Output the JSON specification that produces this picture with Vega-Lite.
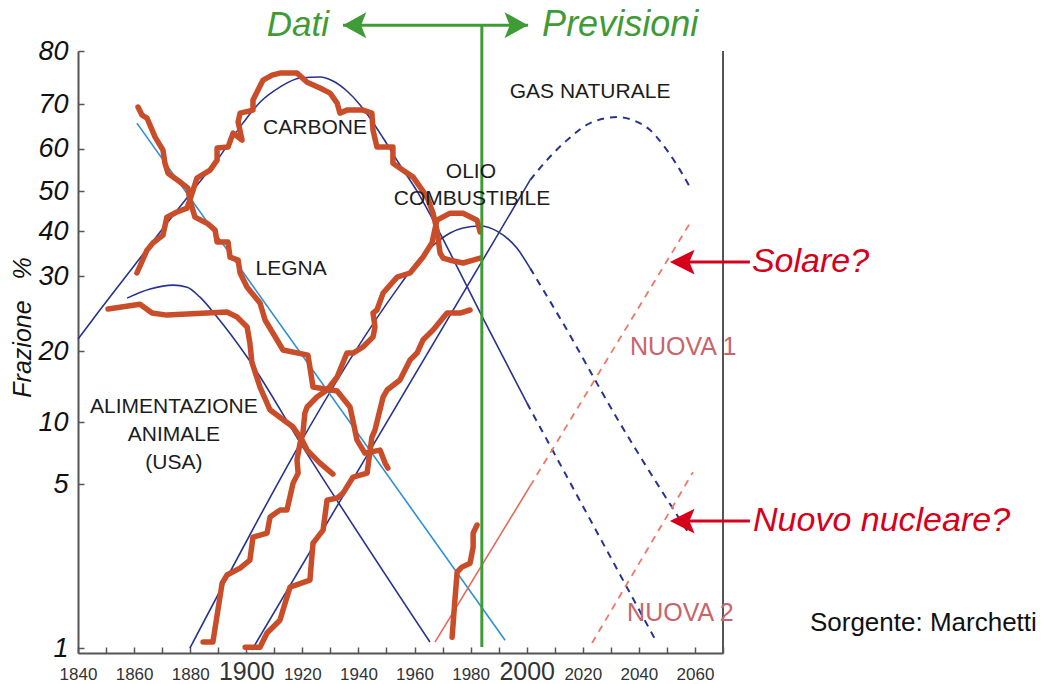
{
  "$schema": "https://vega.github.io/schema/vega-lite/v6.json",
  "width": 645,
  "height": 602,
  "autosize": {"type": "none"},
  "padding": {"left": 78, "top": 51, "right": 319, "bottom": 31},
  "background": "white",
  "config": {"view": {"stroke": null}, "font": "Liberation Sans"},
  "datasets": {
    "storico": [
      {"fonte": "legna", "anno": 1861.4, "log_odds": 0.361},
      {"fonte": "legna", "anno": 1862.8, "log_odds": 0.327},
      {"fonte": "legna", "anno": 1864.6, "log_odds": 0.314},
      {"fonte": "legna", "anno": 1867.5, "log_odds": 0.232},
      {"fonte": "legna", "anno": 1870.3, "log_odds": 0.176},
      {"fonte": "legna", "anno": 1871.0, "log_odds": 0.120},
      {"fonte": "legna", "anno": 1872.1, "log_odds": 0.077},
      {"fonte": "legna", "anno": 1876.4, "log_odds": 0.039},
      {"fonte": "legna", "anno": 1879.2, "log_odds": 0.013},
      {"fonte": "legna", "anno": 1879.9, "log_odds": -0.039},
      {"fonte": "legna", "anno": 1881.7, "log_odds": -0.112},
      {"fonte": "legna", "anno": 1886.0, "log_odds": -0.138},
      {"fonte": "legna", "anno": 1888.9, "log_odds": -0.168},
      {"fonte": "legna", "anno": 1889.6, "log_odds": -0.219},
      {"fonte": "legna", "anno": 1893.5, "log_odds": -0.219},
      {"fonte": "legna", "anno": 1894.2, "log_odds": -0.284},
      {"fonte": "legna", "anno": 1897.1, "log_odds": -0.297},
      {"fonte": "legna", "anno": 1897.8, "log_odds": -0.352},
      {"fonte": "legna", "anno": 1900.3, "log_odds": -0.413},
      {"fonte": "legna", "anno": 1904.9, "log_odds": -0.481},
      {"fonte": "legna", "anno": 1906.7, "log_odds": -0.554},
      {"fonte": "legna", "anno": 1909.5, "log_odds": -0.610},
      {"fonte": "legna", "anno": 1913.1, "log_odds": -0.683},
      {"fonte": "legna", "anno": 1922.0, "log_odds": -0.705},
      {"fonte": "legna", "anno": 1923.8, "log_odds": -0.842},
      {"fonte": "legna", "anno": 1932.4, "log_odds": -0.859},
      {"fonte": "legna", "anno": 1937.0, "log_odds": -0.928},
      {"fonte": "legna", "anno": 1939.5, "log_odds": -1.070},
      {"fonte": "legna", "anno": 1942.3, "log_odds": -1.126},
      {"fonte": "legna", "anno": 1947.7, "log_odds": -1.113},
      {"fonte": "legna", "anno": 1949.5, "log_odds": -1.169},
      {"fonte": "legna", "anno": 1950.5, "log_odds": -1.190},

      {"fonte": "carbone", "anno": 1861.0, "log_odds": -0.352},
      {"fonte": "carbone", "anno": 1864.6, "log_odds": -0.254},
      {"fonte": "carbone", "anno": 1866.7, "log_odds": -0.223},
      {"fonte": "carbone", "anno": 1870.3, "log_odds": -0.189},
      {"fonte": "carbone", "anno": 1871.7, "log_odds": -0.112},
      {"fonte": "carbone", "anno": 1875.3, "log_odds": -0.090},
      {"fonte": "carbone", "anno": 1878.9, "log_odds": -0.073},
      {"fonte": "carbone", "anno": 1880.7, "log_odds": -0.009},
      {"fonte": "carbone", "anno": 1882.4, "log_odds": 0.056},
      {"fonte": "carbone", "anno": 1887.1, "log_odds": 0.090},
      {"fonte": "carbone", "anno": 1889.6, "log_odds": 0.133},
      {"fonte": "carbone", "anno": 1889.6, "log_odds": 0.185},
      {"fonte": "carbone", "anno": 1893.5, "log_odds": 0.189},
      {"fonte": "carbone", "anno": 1895.3, "log_odds": 0.249},
      {"fonte": "carbone", "anno": 1898.5, "log_odds": 0.219},
      {"fonte": "carbone", "anno": 1897.1, "log_odds": 0.297},
      {"fonte": "carbone", "anno": 1897.8, "log_odds": 0.335},
      {"fonte": "carbone", "anno": 1902.4, "log_odds": 0.348},
      {"fonte": "carbone", "anno": 1902.4, "log_odds": 0.391},
      {"fonte": "carbone", "anno": 1904.2, "log_odds": 0.434},
      {"fonte": "carbone", "anno": 1906.0, "log_odds": 0.477},
      {"fonte": "carbone", "anno": 1909.2, "log_odds": 0.498},
      {"fonte": "carbone", "anno": 1912.0, "log_odds": 0.507},
      {"fonte": "carbone", "anno": 1918.1, "log_odds": 0.507},
      {"fonte": "carbone", "anno": 1921.7, "log_odds": 0.468},
      {"fonte": "carbone", "anno": 1926.3, "log_odds": 0.443},
      {"fonte": "carbone", "anno": 1929.9, "log_odds": 0.421},
      {"fonte": "carbone", "anno": 1932.4, "log_odds": 0.378},
      {"fonte": "carbone", "anno": 1933.4, "log_odds": 0.335},
      {"fonte": "carbone", "anno": 1935.9, "log_odds": 0.348},
      {"fonte": "carbone", "anno": 1941.6, "log_odds": 0.348},
      {"fonte": "carbone", "anno": 1944.8, "log_odds": 0.335},
      {"fonte": "carbone", "anno": 1945.2, "log_odds": 0.262},
      {"fonte": "carbone", "anno": 1946.6, "log_odds": 0.189},
      {"fonte": "carbone", "anno": 1952.3, "log_odds": 0.189},
      {"fonte": "carbone", "anno": 1952.3, "log_odds": 0.120},
      {"fonte": "carbone", "anno": 1955.9, "log_odds": 0.090},
      {"fonte": "carbone", "anno": 1959.5, "log_odds": 0.060},
      {"fonte": "carbone", "anno": 1962.0, "log_odds": 0.017},
      {"fonte": "carbone", "anno": 1964.5, "log_odds": -0.026},
      {"fonte": "carbone", "anno": 1966.6, "log_odds": -0.095},
      {"fonte": "carbone", "anno": 1968.0, "log_odds": -0.168},
      {"fonte": "carbone", "anno": 1969.1, "log_odds": -0.266},
      {"fonte": "carbone", "anno": 1970.2, "log_odds": -0.288},
      {"fonte": "carbone", "anno": 1972.7, "log_odds": -0.297},
      {"fonte": "carbone", "anno": 1977.3, "log_odds": -0.309},
      {"fonte": "carbone", "anno": 1980.9, "log_odds": -0.297},
      {"fonte": "carbone", "anno": 1983.4, "log_odds": -0.288},

      {"fonte": "foraggio", "anno": 1850.7, "log_odds": -0.507},
      {"fonte": "foraggio", "anno": 1862.1, "log_odds": -0.486},
      {"fonte": "foraggio", "anno": 1866.4, "log_odds": -0.524},
      {"fonte": "foraggio", "anno": 1871.7, "log_odds": -0.533},
      {"fonte": "foraggio", "anno": 1893.1, "log_odds": -0.520},
      {"fonte": "foraggio", "anno": 1896.7, "log_odds": -0.541},
      {"fonte": "foraggio", "anno": 1900.3, "log_odds": -0.584},
      {"fonte": "foraggio", "anno": 1901.3, "log_odds": -0.653},
      {"fonte": "foraggio", "anno": 1902.0, "log_odds": -0.735},
      {"fonte": "foraggio", "anno": 1904.9, "log_odds": -0.842},
      {"fonte": "foraggio", "anno": 1908.5, "log_odds": -0.941},
      {"fonte": "foraggio", "anno": 1916.7, "log_odds": -1.014},
      {"fonte": "foraggio", "anno": 1919.9, "log_odds": -1.070},
      {"fonte": "foraggio", "anno": 1921.7, "log_odds": -1.113},
      {"fonte": "foraggio", "anno": 1926.3, "log_odds": -1.169},
      {"fonte": "foraggio", "anno": 1930.9, "log_odds": -1.216},

      {"fonte": "petrolio", "anno": 1884.6, "log_odds": -1.938},
      {"fonte": "petrolio", "anno": 1888.1, "log_odds": -1.938},
      {"fonte": "petrolio", "anno": 1891.4, "log_odds": -1.685},
      {"fonte": "petrolio", "anno": 1893.1, "log_odds": -1.650},
      {"fonte": "petrolio", "anno": 1897.8, "log_odds": -1.620},
      {"fonte": "petrolio", "anno": 1901.3, "log_odds": -1.586},
      {"fonte": "petrolio", "anno": 1902.4, "log_odds": -1.487},
      {"fonte": "petrolio", "anno": 1907.4, "log_odds": -1.470},
      {"fonte": "petrolio", "anno": 1908.5, "log_odds": -1.401},
      {"fonte": "petrolio", "anno": 1912.0, "log_odds": -1.371},
      {"fonte": "petrolio", "anno": 1914.5, "log_odds": -1.371},
      {"fonte": "petrolio", "anno": 1916.7, "log_odds": -1.255},
      {"fonte": "petrolio", "anno": 1918.5, "log_odds": -1.212},
      {"fonte": "petrolio", "anno": 1918.1, "log_odds": -1.156},
      {"fonte": "petrolio", "anno": 1919.2, "log_odds": -1.083},
      {"fonte": "petrolio", "anno": 1920.2, "log_odds": -1.040},
      {"fonte": "petrolio", "anno": 1920.9, "log_odds": -0.954},
      {"fonte": "petrolio", "anno": 1921.7, "log_odds": -0.928},
      {"fonte": "petrolio", "anno": 1925.2, "log_odds": -0.885},
      {"fonte": "petrolio", "anno": 1928.8, "log_odds": -0.855},
      {"fonte": "petrolio", "anno": 1932.4, "log_odds": -0.799},
      {"fonte": "petrolio", "anno": 1935.9, "log_odds": -0.696},
      {"fonte": "petrolio", "anno": 1938.1, "log_odds": -0.696},
      {"fonte": "petrolio", "anno": 1941.6, "log_odds": -0.670},
      {"fonte": "petrolio", "anno": 1945.2, "log_odds": -0.627},
      {"fonte": "petrolio", "anno": 1945.9, "log_odds": -0.584},
      {"fonte": "petrolio", "anno": 1945.2, "log_odds": -0.524},
      {"fonte": "petrolio", "anno": 1946.6, "log_odds": -0.511},
      {"fonte": "petrolio", "anno": 1948.8, "log_odds": -0.438},
      {"fonte": "petrolio", "anno": 1953.8, "log_odds": -0.370},
      {"fonte": "petrolio", "anno": 1958.4, "log_odds": -0.352},
      {"fonte": "petrolio", "anno": 1963.0, "log_odds": -0.284},
      {"fonte": "petrolio", "anno": 1966.2, "log_odds": -0.223},
      {"fonte": "petrolio", "anno": 1968.0, "log_odds": -0.125},
      {"fonte": "petrolio", "anno": 1972.7, "log_odds": -0.095},
      {"fonte": "petrolio", "anno": 1977.3, "log_odds": -0.095},
      {"fonte": "petrolio", "anno": 1982.3, "log_odds": -0.125},
      {"fonte": "petrolio", "anno": 1983.4, "log_odds": -0.176},

      {"fonte": "gas", "anno": 1899.6, "log_odds": -1.960},
      {"fonte": "gas", "anno": 1904.9, "log_odds": -1.960},
      {"fonte": "gas", "anno": 1907.4, "log_odds": -1.899},
      {"fonte": "gas", "anno": 1912.0, "log_odds": -1.844},
      {"fonte": "gas", "anno": 1914.5, "log_odds": -1.745},
      {"fonte": "gas", "anno": 1915.6, "log_odds": -1.702},
      {"fonte": "gas", "anno": 1922.7, "log_odds": -1.672},
      {"fonte": "gas", "anno": 1923.8, "log_odds": -1.513},
      {"fonte": "gas", "anno": 1927.4, "log_odds": -1.457},
      {"fonte": "gas", "anno": 1928.8, "log_odds": -1.328},
      {"fonte": "gas", "anno": 1932.4, "log_odds": -1.319},
      {"fonte": "gas", "anno": 1934.5, "log_odds": -1.298},
      {"fonte": "gas", "anno": 1938.1, "log_odds": -1.229},
      {"fonte": "gas", "anno": 1943.1, "log_odds": -1.212},
      {"fonte": "gas", "anno": 1944.8, "log_odds": -1.057},
      {"fonte": "gas", "anno": 1945.9, "log_odds": -1.027},
      {"fonte": "gas", "anno": 1948.8, "log_odds": -0.885},
      {"fonte": "gas", "anno": 1950.2, "log_odds": -0.855},
      {"fonte": "gas", "anno": 1954.8, "log_odds": -0.812},
      {"fonte": "gas", "anno": 1958.4, "log_odds": -0.726},
      {"fonte": "gas", "anno": 1960.9, "log_odds": -0.696},
      {"fonte": "gas", "anno": 1963.0, "log_odds": -0.640},
      {"fonte": "gas", "anno": 1966.6, "log_odds": -0.597},
      {"fonte": "gas", "anno": 1971.6, "log_odds": -0.524},
      {"fonte": "gas", "anno": 1976.2, "log_odds": -0.524},
      {"fonte": "gas", "anno": 1979.8, "log_odds": -0.511},

      {"fonte": "nucleare", "anno": 1973.4, "log_odds": -1.917},
      {"fonte": "nucleare", "anno": 1974.4, "log_odds": -1.758},
      {"fonte": "nucleare", "anno": 1975.2, "log_odds": -1.637},
      {"fonte": "nucleare", "anno": 1976.9, "log_odds": -1.616},
      {"fonte": "nucleare", "anno": 1979.8, "log_odds": -1.599},
      {"fonte": "nucleare", "anno": 1980.9, "log_odds": -1.530},
      {"fonte": "nucleare", "anno": 1980.9, "log_odds": -1.470},
      {"fonte": "nucleare", "anno": 1982.3, "log_odds": -1.435}
    ],
    "modelli": [
      {"fonte": "foraggio", "tratto": "storico", "anno": 1857.5, "log_odds": -0.460},
      {"fonte": "foraggio", "tratto": "storico", "anno": 1865.7, "log_odds": -0.421},
      {"fonte": "foraggio", "tratto": "storico", "anno": 1873.9, "log_odds": -0.404},
      {"fonte": "foraggio", "tratto": "storico", "anno": 1878.9, "log_odds": -0.413},
      {"fonte": "foraggio", "tratto": "storico", "anno": 1883.5, "log_odds": -0.456},
      {"fonte": "foraggio", "tratto": "storico", "anno": 1889.6, "log_odds": -0.541},
      {"fonte": "foraggio", "tratto": "storico", "anno": 1900.3, "log_odds": -0.713},
      {"fonte": "foraggio", "tratto": "storico", "anno": 1920.2, "log_odds": -1.100},
      {"fonte": "foraggio", "tratto": "storico", "anno": 1965.5, "log_odds": -1.938},

      {"fonte": "carbone", "tratto": "storico", "anno": 1840.0, "log_odds": -0.636},
      {"fonte": "carbone", "tratto": "storico", "anno": 1847.8, "log_odds": -0.511},
      {"fonte": "carbone", "tratto": "storico", "anno": 1859.6, "log_odds": -0.327},
      {"fonte": "carbone", "tratto": "storico", "anno": 1871.7, "log_odds": -0.138},
      {"fonte": "carbone", "tratto": "storico", "anno": 1881.0, "log_odds": 0.004},
      {"fonte": "carbone", "tratto": "storico", "anno": 1889.6, "log_odds": 0.133},
      {"fonte": "carbone", "tratto": "storico", "anno": 1898.8, "log_odds": 0.292},
      {"fonte": "carbone", "tratto": "storico", "anno": 1904.9, "log_odds": 0.382},
      {"fonte": "carbone", "tratto": "storico", "anno": 1912.0, "log_odds": 0.447},
      {"fonte": "carbone", "tratto": "storico", "anno": 1919.2, "log_odds": 0.486},
      {"fonte": "carbone", "tratto": "storico", "anno": 1926.3, "log_odds": 0.490},
      {"fonte": "carbone", "tratto": "storico", "anno": 1930.9, "log_odds": 0.473},
      {"fonte": "carbone", "tratto": "storico", "anno": 1935.9, "log_odds": 0.430},
      {"fonte": "carbone", "tratto": "storico", "anno": 1940.6, "log_odds": 0.370},
      {"fonte": "carbone", "tratto": "storico", "anno": 1944.1, "log_odds": 0.314},
      {"fonte": "carbone", "tratto": "storico", "anno": 1948.8, "log_odds": 0.228},
      {"fonte": "carbone", "tratto": "storico", "anno": 1954.8, "log_odds": 0.112},
      {"fonte": "carbone", "tratto": "storico", "anno": 1960.9, "log_odds": 0.000},
      {"fonte": "carbone", "tratto": "storico", "anno": 1965.5, "log_odds": -0.099},
      {"fonte": "carbone", "tratto": "storico", "anno": 1972.7, "log_odds": -0.266},
      {"fonte": "carbone", "tratto": "storico", "anno": 1984.4, "log_odds": -0.546},
      {"fonte": "carbone", "tratto": "storico", "anno": 2000.1, "log_odds": -0.911},
      {"fonte": "carbone", "tratto": "previsione", "anno": 2000.1, "log_odds": -0.911},
      {"fonte": "carbone", "tratto": "previsione", "anno": 2046.5, "log_odds": -1.942},

      {"fonte": "petrolio", "tratto": "storico", "anno": 1879.9, "log_odds": -1.964},
      {"fonte": "petrolio", "tratto": "storico", "anno": 1954.8, "log_odds": -0.404},
      {"fonte": "petrolio", "tratto": "storico", "anno": 1962.0, "log_odds": -0.288},
      {"fonte": "petrolio", "tratto": "storico", "anno": 1968.0, "log_odds": -0.219},
      {"fonte": "petrolio", "tratto": "storico", "anno": 1972.7, "log_odds": -0.180},
      {"fonte": "petrolio", "tratto": "storico", "anno": 1977.3, "log_odds": -0.159},
      {"fonte": "petrolio", "tratto": "storico", "anno": 1983.4, "log_odds": -0.150},
      {"fonte": "petrolio", "tratto": "storico", "anno": 1989.4, "log_odds": -0.172},
      {"fonte": "petrolio", "tratto": "storico", "anno": 1996.5, "log_odds": -0.245},
      {"fonte": "petrolio", "tratto": "storico", "anno": 2001.2, "log_odds": -0.331},
      {"fonte": "petrolio", "tratto": "previsione", "anno": 2001.2, "log_odds": -0.331},
      {"fonte": "petrolio", "tratto": "previsione", "anno": 2011.9, "log_odds": -0.546},
      {"fonte": "petrolio", "tratto": "previsione", "anno": 2032.2, "log_odds": -0.976},
      {"fonte": "petrolio", "tratto": "previsione", "anno": 2058.2, "log_odds": -1.478},

      {"fonte": "gas", "tratto": "storico", "anno": 1902.0, "log_odds": -1.972},
      {"fonte": "gas", "tratto": "storico", "anno": 2001.2, "log_odds": 0.047},
      {"fonte": "gas", "tratto": "previsione", "anno": 2001.2, "log_odds": 0.047},
      {"fonte": "gas", "tratto": "previsione", "anno": 2007.2, "log_odds": 0.133},
      {"fonte": "gas", "tratto": "previsione", "anno": 2014.4, "log_odds": 0.219},
      {"fonte": "gas", "tratto": "previsione", "anno": 2022.6, "log_odds": 0.292},
      {"fonte": "gas", "tratto": "previsione", "anno": 2032.2, "log_odds": 0.318},
      {"fonte": "gas", "tratto": "previsione", "anno": 2037.9, "log_odds": 0.305},
      {"fonte": "gas", "tratto": "previsione", "anno": 2044.0, "log_odds": 0.262},
      {"fonte": "gas", "tratto": "previsione", "anno": 2050.0, "log_odds": 0.176},
      {"fonte": "gas", "tratto": "previsione", "anno": 2054.7, "log_odds": 0.090},
      {"fonte": "gas", "tratto": "previsione", "anno": 2058.2, "log_odds": 0.017},

      {"fonte": "legna", "tratto": "storico", "anno": 1861.0, "log_odds": 0.292},
      {"fonte": "legna", "tratto": "storico", "anno": 1992.3, "log_odds": -1.930},

      {"fonte": "nuova 1", "tratto": "storico", "anno": 1967.3, "log_odds": -1.938},
      {"fonte": "nuova 1", "tratto": "storico", "anno": 2001.2, "log_odds": -1.268},
      {"fonte": "nuova 1", "tratto": "previsione", "anno": 2001.2, "log_odds": -1.268},
      {"fonte": "nuova 1", "tratto": "previsione", "anno": 2058.2, "log_odds": -0.138},
      {"fonte": "nuova 2", "tratto": "previsione", "anno": 2023.3, "log_odds": -1.942},
      {"fonte": "nuova 2", "tratto": "previsione", "anno": 2059.3, "log_odds": -1.208}
    ],
    "etichette": [
      {"gruppo": "fonte", "testo": "CARBONE", "anno": 1924.5, "log_odds": 0.271},
      {"gruppo": "fonte", "testo": "LEGNA", "anno": 1916.0, "log_odds": -0.335},
      {"gruppo": "fonte", "testo": "OLIO", "anno": 1980.1, "log_odds": 0.082},
      {"gruppo": "fonte", "testo": "COMBUSTIBILE", "anno": 1980.5, "log_odds": -0.034},
      {"gruppo": "fonte", "testo": "GAS NATURALE", "anno": 2022.6, "log_odds": 0.425},
      {"gruppo": "fonte", "testo": "ALIMENTAZIONE", "anno": 1874.2, "log_odds": -0.928},
      {"gruppo": "fonte", "testo": "ANIMALE", "anno": 1874.2, "log_odds": -1.049},
      {"gruppo": "fonte", "testo": "(USA)", "anno": 1874.2, "log_odds": -1.169},
      {"gruppo": "nuova", "testo": "NUOVA 1", "anno": 2036.8, "log_odds": -0.670},
      {"gruppo": "nuova", "testo": "NUOVA 2", "anno": 2035.8, "log_odds": -1.813},
      {"gruppo": "nota", "testo": "Sorgente: Marchetti", "anno": 2101.0, "log_odds": -1.856},
      {"gruppo": "domanda", "testo": "Solare?", "anno": 2080.3, "log_odds": -0.305},
      {"gruppo": "domanda", "testo": "Nuovo nucleare?", "anno": 2080.7, "log_odds": -1.418},
      {"gruppo": "dati", "testo": "Dati", "anno": 1929.5, "log_odds": 0.713},
      {"gruppo": "previsioni", "testo": "Previsioni", "anno": 2005.5, "log_odds": 0.713}
    ],
    "frecce": [
      {"freccia": "dati", "anno": 1934.5, "anno2": 2000.5, "log_odds": 0.713},
      {"freccia": "solare", "anno": 2055.7, "anno2": 2079.6, "log_odds": -0.305},
      {"freccia": "nucleare", "anno": 2055.7, "anno2": 2079.6, "log_odds": -1.418}
    ],
    "separatore": [
      {"anno": 1984.0, "log_odds": 0.713, "log_odds2": -1.959}
    ],
    "punte": [
      {"punta": "dati_sx", "anno": 1939.1, "log_odds": 0.713},
      {"punta": "dati_dx", "anno": 1995.8, "log_odds": 0.713},
      {"punta": "solare", "anno": 2055.7, "log_odds": -0.305},
      {"punta": "nucleare", "anno": 2055.7, "log_odds": -1.418}
    ],
    "cornice": [
      {"anno": 2070}
    ]
  },
  "encoding": {
    "x": {
      "field": "anno",
      "type": "quantitative",
      "scale": {"domain": [1840, 2070], "nice": false, "zero": false},
      "axis": {
        "values": [1840, 1850, 1860, 1870, 1880, 1890, 1900, 1910, 1920, 1930, 1940, 1950, 1960, 1970, 1980, 1990, 2000, 2010, 2020, 2030, 2040, 2050, 2060, 2070],
        "labelExpr": "(datum.value % 20 == 0 && datum.value <= 2060) ? '' + datum.value : ''",
        "title": null,
        "grid": false,
        "domainColor": "#555555",
        "domainWidth": 2,
        "tickColor": "#555555",
        "tickWidth": 1.5,
        "tickSize": -6,
        "labelPadding": 32,
        "labelBaseline": "alphabetic",
        "labelColor": "#333333",
        "labelFont": "Liberation Sans",
        "labelFontSize": {"condition": {"test": "datum.value == 1900 || datum.value == 2000", "value": 25}, "value": 17},
        "labelOverlap": false,
        "labelFlush": false,
        "labelBound": false
      }
    },
    "y": {
      "field": "log_odds",
      "type": "quantitative",
      "scale": {"domain": [-1.985, 0.602], "nice": false, "zero": false},
      "axis": {
        "values": [0.602, 0.374, 0.181, 0, -0.172, -0.365, -0.688, -0.993, -1.259, -1.964],
        "labelExpr": "(datum.value < -0.6 && datum.value > -0.8) ? '20' : (datum.value < -0.9 && datum.value > -1.1) ? '10' : format(100 / (1 + pow(10, -datum.value)), '.0f')",
        "title": "Frazione\u00a0\u00a0\u00a0%",
        "titleFont": "Liberation Sans",
        "titleFontStyle": "italic",
        "titleFontWeight": "normal",
        "titleFontSize": 25,
        "titleColor": "#111111",
        "titleAngle": -90,
        "titleX": -56,
        "titleY": 276,
        "titleAlign": "center",
        "titleBaseline": "middle",
        "grid": false,
        "domainColor": "#555555",
        "domainWidth": 2,
        "tickColor": "#555555",
        "tickWidth": 1.5,
        "tickSize": -6,
        "labelPadding": 16,
        "labelColor": "#111111",
        "labelFont": "Liberation Sans",
        "labelFontStyle": "italic",
        "labelFontSize": 27,
        "labelOverlap": false,
        "labelFlush": false,
        "labelBound": false
      }
    }
  },
  "layer": [
    {
      "data": {"name": "cornice"},
      "mark": {"type": "rule", "color": "#555555", "strokeWidth": 2},
      "encoding": {"y": null}
    },
    {
      "data": {"name": "modelli"},
      "transform": [{"filter": "datum.tratto == 'storico' && datum.fonte != 'legna' && datum.fonte != 'nuova 1'"}],
      "mark": {"type": "line", "color": "#28338f", "strokeWidth": 1.6, "interpolate": "monotone"},
      "encoding": {"detail": {"field": "fonte"}, "order": {"value": null}}
    },
    {
      "data": {"name": "modelli"},
      "transform": [{"filter": "datum.fonte == 'legna'"}],
      "mark": {"type": "line", "color": "#2f8fd6", "strokeWidth": 1.6},
      "encoding": {"order": {"value": null}}
    },
    {
      "data": {"name": "modelli"},
      "transform": [{"filter": "datum.tratto == 'previsione' && (datum.fonte == 'carbone' || datum.fonte == 'petrolio' || datum.fonte == 'gas')"}],
      "mark": {"type": "line", "color": "#28338f", "strokeWidth": 2, "strokeDash": [7, 6], "interpolate": "monotone"},
      "encoding": {"detail": {"field": "fonte"}, "order": {"value": null}}
    },
    {
      "data": {"name": "modelli"},
      "transform": [{"filter": "datum.fonte == 'nuova 1' && datum.tratto == 'storico'"}],
      "mark": {"type": "line", "color": "#e5685a", "strokeWidth": 1.6},
      "encoding": {"order": {"value": null}}
    },
    {
      "data": {"name": "modelli"},
      "transform": [{"filter": "datum.tratto == 'previsione' && (datum.fonte == 'nuova 1' || datum.fonte == 'nuova 2')"}],
      "mark": {"type": "line", "color": "#ee7868", "strokeWidth": 1.8, "strokeDash": [7, 6]},
      "encoding": {"detail": {"field": "fonte"}, "order": {"value": null}}
    },
    {
      "data": {"name": "storico"},
      "mark": {"type": "line", "color": "#c94d28", "strokeWidth": 5.5, "strokeCap": "round", "strokeJoin": "round"},
      "encoding": {"detail": {"field": "fonte"}, "order": {"value": null}}
    },
    {
      "data": {"name": "separatore"},
      "mark": {"type": "rule", "color": "#3f9b35", "strokeWidth": 3},
      "encoding": {"y2": {"field": "log_odds2"}}
    },
    {
      "data": {"name": "frecce"},
      "transform": [{"filter": "datum.freccia == 'dati'"}],
      "mark": {"type": "rule", "color": "#3f9b35", "strokeWidth": 3},
      "encoding": {"x2": {"field": "anno2"}}
    },
    {
      "data": {"name": "frecce"},
      "transform": [{"filter": "datum.freccia != 'dati'"}],
      "mark": {"type": "rule", "color": "#d6001c", "strokeWidth": 3},
      "encoding": {"x2": {"field": "anno2"}}
    },
    {
      "data": {"name": "punte"},
      "transform": [{"filter": "datum.punta == 'dati_sx'"}],
      "mark": {"type": "point", "filled": true, "color": "#3f9b35", "opacity": 1, "size": 676, "shape": "M -1 0 L 0.8 -1 L 0.4 0 L 0.8 1 Z"}
    },
    {
      "data": {"name": "punte"},
      "transform": [{"filter": "datum.punta == 'dati_dx'"}],
      "mark": {"type": "point", "filled": true, "color": "#3f9b35", "opacity": 1, "size": 676, "shape": "M 1 0 L -0.8 -1 L -0.4 0 L -0.8 1 Z"}
    },
    {
      "data": {"name": "punte"},
      "transform": [{"filter": "datum.punta == 'solare' || datum.punta == 'nucleare'"}],
      "mark": {"type": "point", "filled": true, "color": "#d6001c", "opacity": 1, "size": 676, "shape": "M -1 0 L 0.9 -0.95 L 0.5 0 L 0.9 0.95 Z"}
    },
    {
      "data": {"name": "etichette"},
      "transform": [{"filter": "datum.gruppo == 'fonte'"}],
      "mark": {"type": "text", "font": "Liberation Sans", "fontSize": 21, "color": "#1c1c1c", "align": "center", "baseline": "middle"},
      "encoding": {"text": {"field": "testo"}}
    },
    {
      "data": {"name": "etichette"},
      "transform": [{"filter": "datum.gruppo == 'nuova'"}],
      "mark": {"type": "text", "font": "Liberation Sans", "fontSize": 25, "color": "#c8646b", "align": "left", "baseline": "middle"},
      "encoding": {"text": {"field": "testo"}}
    },
    {
      "data": {"name": "etichette"},
      "transform": [{"filter": "datum.gruppo == 'nota'"}],
      "mark": {"type": "text", "font": "Liberation Sans", "fontSize": 26, "color": "#111111", "align": "left", "baseline": "middle"},
      "encoding": {"text": {"field": "testo"}}
    },
    {
      "data": {"name": "etichette"},
      "transform": [{"filter": "datum.gruppo == 'domanda'"}],
      "mark": {"type": "text", "font": "Liberation Sans", "fontSize": 34, "fontStyle": "italic", "color": "#d6001c", "align": "left", "baseline": "middle"},
      "encoding": {"text": {"field": "testo"}}
    },
    {
      "data": {"name": "etichette"},
      "transform": [{"filter": "datum.gruppo == 'dati'"}],
      "mark": {"type": "text", "font": "Liberation Sans", "fontSize": 35, "fontStyle": "italic", "color": "#3f9b35", "align": "right", "baseline": "middle"},
      "encoding": {"text": {"field": "testo"}}
    },
    {
      "data": {"name": "etichette"},
      "transform": [{"filter": "datum.gruppo == 'previsioni'"}],
      "mark": {"type": "text", "font": "Liberation Sans", "fontSize": 36, "fontStyle": "italic", "color": "#3f9b35", "align": "left", "baseline": "middle"},
      "encoding": {"text": {"field": "testo"}}
    }
  ]
}
